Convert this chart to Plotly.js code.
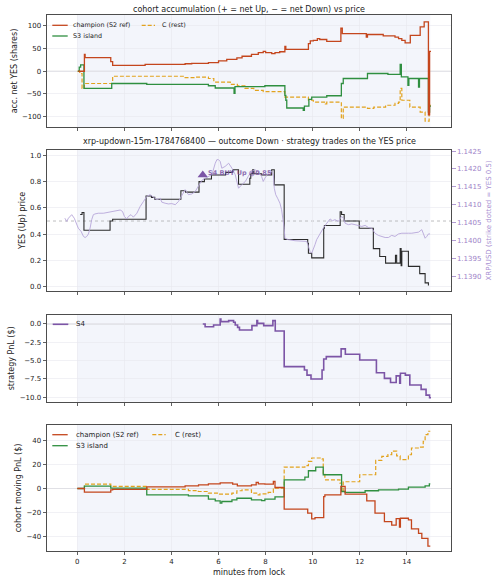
<!DOCTYPE html>
<html>
<head>
<meta charset="utf-8">
<script src="https://cdn.plot.ly/plotly-3.0.1.min.js"></script>
<style>
  html, body { margin: 0; padding: 0; background: #ffffff; }
  #chart { width: 500px; height: 582px; }
</style>
</head>
<body>
<div id="chart"></div>
<script>
// ---- minutes from lock / values ----
// Panel 1: accumulated net YES shares per cohort
const accChampT = [0.04,0.3,0.33,1.42,1.5,2.88,4.58,4.86,5.57,6.0,6.35,6.78,7.0,7.4,7.69,7.9,8.0,8.26,8.4,8.6,8.82,8.86,9.82,9.9,10.03,10.2,10.3,10.6,11.2,11.26,12.28,12.33,13.0,13.5,13.65,13.79,13.93,14.15,14.57,14.74,14.92,14.97,15.03];
const accChampV = [0,37,30,21,13,15,16.5,17.5,19,23,26,29.6,33,37,41,44,41,39,41,43,55,48,61,67,68,72,70,66,95,83,75,81,78,75,72,68,62.5,79,98,109,-96,44,44];

const accIslandT = [0.02,0.08,0.14,0.28,1.46,2.95,5.57,5.86,6.66,6.7,7.97,8.82,8.86,8.9,9.6,9.65,9.84,9.96,10.6,11.22,11.3,12.33,13.2,13.72,13.77,14.05,14.09,14.5,14.54,14.92,14.97,15.03];
const accIslandV = [0,9,14,-38,-27,-29,-32,-37,-49,-34,-32,-53,-64,-81,-86,-77,-62,-57,-54,-27,-16,-5,-7,15,-12.5,-31,-16,-35,-16,-90,-77,-77];

const accRestT = [0.0,0.1,0.2,0.3,1.5,4.58,5.0,5.57,5.8,6.5,6.8,7.12,7.5,7.9,8.82,9.82,10.03,10.54,10.6,11.22,11.3,12.33,12.6,13.1,13.5,13.65,13.72,13.79,14.13,14.57,14.78,14.95,15.03];
const accRestV = [0,-5,-38,-27,-11,-14,-13,-16,-24,-29,-32,-38,-42,-45,-57,-64,-68,-72,-68,-104,-79,-82,-79,-75,-71,-68,-38,-64,-79,-90,-110,-75,-75];

// Panel 2: YES (Up) price and XRP/USD
const yesT = [0.12,0.2,0.28,1.39,1.5,2.92,3.15,3.29,4.4,4.6,5.17,5.4,5.7,6.3,6.6,6.85,7.33,7.37,7.45,7.5,7.83,8.26,8.37,8.79,9.79,9.82,9.96,10.47,10.5,11.17,11.23,11.34,11.98,12.58,12.85,13.1,13.52,13.57,13.72,13.76,13.79,14.07,14.55,14.78,14.92];
const yesP = [0.55,0.565,0.43,0.5,0.514,0.69,0.68,0.666,0.73,0.72,0.80,0.82,0.85,0.87,0.89,0.78,0.825,0.86,0.89,0.86,0.85,0.89,0.775,0.36,0.33,0.255,0.22,0.445,0.466,0.57,0.55,0.5,0.445,0.29,0.23,0.18,0.24,0.18,0.29,0.16,0.27,0.155,0.10,0.03,0.01];

const xrpT = [-0.53,-0.45,-0.38,-0.31,-0.24,-0.13,-0.03,0.04,0.16,0.26,0.33,0.4,0.47,0.54,0.61,0.68,0.75,0.89,1.11,1.32,1.46,1.6,1.82,1.92,2.0,2.1,2.17,2.28,2.38,2.53,2.67,2.81,2.95,3.09,3.23,3.38,3.52,3.59,3.73,3.87,4.01,4.16,4.3,4.37,4.44,4.58,4.72,4.87,5.01,5.15,5.29,5.43,5.57,5.72,5.86,5.93,6.0,6.07,6.14,6.28,6.43,6.57,6.71,6.85,6.99,7.14,7.26,7.4,7.55,7.69,7.83,7.9,7.97,8.11,8.26,8.33,8.37,8.43,8.51,8.61,8.68,8.75,8.79,8.82,8.97,9.25,9.53,9.75,9.82,9.89,9.96,10.03,10.1,10.17,10.24,10.31,10.38,10.45,10.6,10.74,10.84,10.95,11.09,11.23,11.31,11.38,11.52,11.66,11.8,11.94,12.09,12.23,12.37,12.51,12.65,12.79,12.94,13.08,13.22,13.36,13.5,13.65,13.79,13.93,14.07,14.21,14.36,14.5,14.64,14.71,14.78,14.85,14.92,14.99];
const xrpUsd = [1.14062,1.14053,1.14062,1.14067,1.14072,1.14062,1.14048,1.14034,1.14025,1.14011,1.14008,1.14011,1.14018,1.14034,1.14058,1.14072,1.14074,1.14076,1.14076,1.14079,1.14081,1.14083,1.14085,1.14081,1.14067,1.14060,1.14067,1.14072,1.14065,1.14076,1.14095,1.14109,1.14123,1.14128,1.14120,1.14114,1.14118,1.14107,1.14104,1.14102,1.14103,1.14100,1.14109,1.14118,1.14128,1.14142,1.14128,1.14130,1.14137,1.14151,1.14168,1.14174,1.14179,1.14184,1.14216,1.14226,1.14226,1.14221,1.14202,1.14207,1.14216,1.14202,1.14184,1.14146,1.14156,1.14165,1.14179,1.14193,1.14198,1.14191,1.14179,1.14165,1.14174,1.14188,1.14193,1.14184,1.14146,1.14128,1.14118,1.14104,1.14086,1.14058,1.14034,1.14006,1.14002,1.13999,1.13999,1.13997,1.13983,1.13969,1.13964,1.13974,1.13988,1.14002,1.14011,1.14020,1.14025,1.14034,1.14048,1.14060,1.14055,1.14058,1.14053,1.14067,1.14062,1.14048,1.14044,1.14046,1.14044,1.14042,1.14039,1.14042,1.14036,1.14034,1.14020,1.14014,1.14011,1.14008,1.14008,1.14014,1.14011,1.14018,1.14020,1.14019,1.14020,1.14020,1.14022,1.14023,1.14030,1.14018,1.14006,1.14011,1.14018,1.14018];

const s4BuyT = [5.33];
const s4BuyP = [0.85];
const s4BuyLabel = ['S4 BUY Up @0.85'];

// Panel 3: S4 strategy PnL
const s4T = [5.33,5.43,5.79,6.07,6.1,6.43,6.64,6.71,6.81,6.89,7.42,7.63,7.66,7.92,8.31,8.41,8.79,9.65,9.76,9.93,10.4,10.47,10.58,11.21,11.39,12.0,12.71,13.05,13.31,13.55,13.7,13.73,13.94,14.13,14.61,14.82,14.97,15.03];
const s4Pnl = [0,-0.37,-0.14,0.68,0.32,0.46,0.23,-0.14,-0.46,-0.82,-0.23,0.46,0.09,-0.23,0.46,-0.96,-5.84,-6.3,-7.0,-7.53,-6.3,-4.8,-4.47,-3.4,-4.15,-4.93,-6.67,-7.44,-8.0,-7.1,-8.1,-6.74,-7.0,-8.36,-8.95,-9.73,-10.1,-10.1];

// Panel 4: cohort moving PnL
const pnlChampT = [0.0,0.3,1.42,1.5,2.95,4.58,5.15,5.57,6.07,6.6,6.8,7.4,7.6,7.69,7.97,8.33,8.4,8.79,9.79,9.96,10.1,10.47,10.52,11.2,11.38,12.3,12.65,13.05,13.36,13.55,13.69,13.73,14.07,14.2,14.5,14.64,14.9,15.0];
const pnlChampV = [0,-3.05,-1.1,-0.8,1.4,2.2,3.0,3.9,4.7,3.6,2.2,3.0,5.0,3.9,3.6,5.8,0.8,-17.2,-20.5,-25.3,-24.2,-6.7,-5.3,1.7,-4.7,-10.3,-20.5,-27.5,-30.5,-25,-32,-24.7,-26,-33.6,-37.2,-41.4,-47.8,-47.8];

const pnlIslandT = [0.0,0.3,1.42,2.95,4.72,5.57,5.86,6.07,6.14,6.57,6.78,7.4,7.83,7.97,8.4,8.79,9.67,9.82,10.13,10.45,11.23,11.38,12.23,12.8,13.65,14.07,14.78,14.96,15.0];
const pnlIslandV = [0,1.9,0.3,-5.3,-6.1,-8.9,-10.3,-12.2,-10.8,-9.4,-8.1,-9.4,-10,-8.9,-6.9,7.2,9.4,14.7,17.8,11.4,-2.5,-3.3,-1.9,-1.1,-0.6,1.1,2.2,3.9,3.9];

const pnlRestT = [0.0,0.3,1.42,2.95,4.72,5.14,5.57,6.0,6.57,6.78,7.0,7.4,7.62,7.76,8.11,8.33,8.79,9.67,9.82,9.96,10.4,10.45,10.52,11.16,11.23,11.3,12.0,12.68,12.94,13.2,13.36,13.57,13.72,14.07,14.2,14.55,14.7,14.78,14.9,15.0];
const pnlRestV = [0,3.6,1.7,-0.8,-1.7,-2.5,-3.9,-4.7,-3.9,-1.9,-1.1,-3.9,-5.3,-4.4,-3.3,0.3,17.8,18.9,22.5,25.3,24.5,12.8,7.2,4.4,-2.5,5.6,11.4,23.3,26.7,28.1,31,27,24,28,33.6,34.4,39.2,44.7,47.5,47.5];

const minuteTicks = [0, 2, 4, 6, 8, 10, 12, 14];
const xrpTicks = [1.1390, 1.1395, 1.1400, 1.1405, 1.1410, 1.1415, 1.1420, 1.1425];

// ---- styling ----
const C_CHAMP = '#c4461d';
const C_ISLAND = '#2f8f40';
const C_REST = '#e2a21d';
const C_S4 = '#7c55a6';
const C_XRP = '#b7a6d9';
const C_XRPTXT = '#9d82c8';
const FONT = 'DejaVu Sans, sans-serif';

const step = (x, y, color, xa, ya, extra) => Object.assign({
  type: 'scatter', mode: 'lines', x, y, xaxis: xa, yaxis: ya,
  line: { color, width: 1.3, shape: 'hv' }, showlegend: false, hoverinfo: 'skip'
}, extra || {});

const traces = [
  step(accRestT, accRestV, C_REST, 'x', 'y', { line: { color: C_REST, width: 1.2, shape: 'hv', dash: '4px,2px' } }),
  step(accIslandT, accIslandV, C_ISLAND, 'x', 'y'),
  step(accChampT, accChampV, C_CHAMP, 'x', 'y'),

  step(yesT, yesP, '#2b2b2b', 'x2', 'y2', { line: { color: '#2b2b2b', width: 1.1, shape: 'hv' } }),
  { type: 'scatter', mode: 'markers', x: s4BuyT, y: s4BuyP, xaxis: 'x2', yaxis: 'y2',
    marker: { symbol: 'triangle-up', size: 9, color: C_S4 }, showlegend: false, hoverinfo: 'skip' },
  { type: 'scatter', mode: 'lines', x: xrpT, y: xrpUsd, xaxis: 'x2', yaxis: 'y5',
    line: { color: C_XRP, width: 1 }, opacity: 0.9, showlegend: false, hoverinfo: 'skip' },

  step(s4T, s4Pnl, C_S4, 'x3', 'y3', { line: { color: C_S4, width: 1.6, shape: 'hv' } }),

  step(pnlRestT, pnlRestV, C_REST, 'x4', 'y4', { line: { color: C_REST, width: 1.2, shape: 'hv', dash: '4px,2px' } }),
  step(pnlIslandT, pnlIslandV, C_ISLAND, 'x4', 'y4'),
  step(pnlChampT, pnlChampV, C_CHAMP, 'x4', 'y4')
];

const axisBase = {
  showline: true, mirror: true, linecolor: '#3a3a3a', linewidth: 0.9,
  ticks: 'outside', ticklen: 3.5, tickwidth: 0.8, tickcolor: '#3a3a3a',
  showgrid: true, gridcolor: '#e7e8ee', gridwidth: 0.6, zeroline: false,
  tickfont: { size: 7, color: '#222', family: FONT }
};
const xBase = Object.assign({}, axisBase, { range: [-1.29, 15.88], tickvals: minuteTicks, showticklabels: false });
const yTitle = (text) => ({ text, font: { size: 8, color: '#222', family: FONT }, standoff: 3 });

// shaded window from lock to close, plus reference lines
const shapes = [];
[['x', 'y'], ['x2', 'y2'], ['x3', 'y3'], ['x4', 'y4']].forEach(([xa, ya]) => {
  shapes.push({ type: 'rect', xref: xa, yref: ya + ' domain', x0: 0, x1: 15, y0: 0, y1: 1,
    fillcolor: '#f3f5fb', line: { width: 0 }, layer: 'below' });
});
[['y', 0], ['y3', 0], ['y4', 0]].forEach(([ya, v]) => {
  shapes.push({ type: 'line', xref: 'x domain', yref: ya, x0: 0, x1: 1, y0: v, y1: v,
    line: { color: '#d4d4d8', width: 1.2 }, layer: 'below' });
});
shapes.push({ type: 'line', xref: 'x2 domain', yref: 'y2', x0: 0, x1: 1, y0: 0.5, y1: 0.5,
  line: { color: '#b4b4b8', width: 0.9, dash: 'dot' }, layer: 'below' });

// legend keys (paper coordinates)
const px = (v) => (v - 47) / 404;
const py = (v) => (551 - v) / 536;
const annotations = [];
function legendKey(x0, x1, yPix, color, dash, width, label, textX, size) {
  shapes.push({ type: 'line', xref: 'paper', yref: 'paper', x0: px(x0), x1: px(x1), y0: py(yPix), y1: py(yPix),
    line: { color, width, dash: dash || 'solid' } });
  annotations.push({ xref: 'paper', yref: 'paper', x: px(textX), y: py(yPix), xanchor: 'left', yanchor: 'middle',
    text: label, showarrow: false, font: { size, color: '#222', family: FONT } });
}
legendKey(52.3, 67.7, 25.3, C_CHAMP, null, 1.3, 'champion (S2 ref)', 71, 6.4);
legendKey(52.3, 67.7, 36, C_ISLAND, null, 1.3, 'S3 island', 71, 6.4);
legendKey(141.7, 155, 25.3, C_REST, '4px,2px', 1.2, 'C (rest)', 160, 6.4);
legendKey(52.7, 68.3, 324.3, C_S4, null, 1.6, 'S4', 74, 7);
legendKey(52.3, 67.7, 434.7, C_CHAMP, null, 1.3, 'champion (S2 ref)', 74, 7);
legendKey(52.3, 67.7, 445.7, C_ISLAND, null, 1.3, 'S3 island', 74, 7);
legendKey(152.3, 165.7, 434.7, C_REST, '4px,2px', 1.2, 'C (rest)', 172.7, 7);

// panel titles
annotations.push({ xref: 'paper', yref: 'paper', x: 0.5, y: py(9), xanchor: 'center', yanchor: 'middle',
  text: 'cohort accumulation (+ = net Up, \u2212 = net Down) vs price', showarrow: false,
  font: { size: 8, color: '#222', family: FONT } });
annotations.push({ xref: 'paper', yref: 'paper', x: 0.5, y: py(141.7), xanchor: 'center', yanchor: 'middle',
  text: 'xrp-updown-15m-1784768400 \u2014 outcome Down \u00b7 strategy trades on the YES price', showarrow: false,
  font: { size: 8, color: '#222', family: FONT } });
// trade label next to the buy marker
annotations.push({ xref: 'x2', yref: 'y2', x: s4BuyT[0] + 0.15, y: s4BuyP[0] + 0.015, xanchor: 'left', yanchor: 'middle',
  text: '<b>' + s4BuyLabel[0] + '</b>', showarrow: false, opacity: 0.85,
  font: { size: 6.5, color: C_S4, family: FONT } });

const layout = {
  width: 500, height: 582,
  margin: { l: 47, r: 49, t: 15, b: 31 },
  paper_bgcolor: '#ffffff', plot_bgcolor: '#ffffff',
  font: { family: FONT, size: 7, color: '#222' },
  showlegend: false,
  xaxis: Object.assign({}, xBase, { anchor: 'y' }),
  xaxis2: Object.assign({}, xBase, { anchor: 'y2', matches: 'x' }),
  xaxis3: Object.assign({}, xBase, { anchor: 'y3', matches: 'x' }),
  xaxis4: Object.assign({}, xBase, { anchor: 'y4', matches: 'x', showticklabels: true,
    title: { text: 'minutes from lock', font: { size: 8, color: '#222', family: FONT }, standoff: 4 } }),
  yaxis: Object.assign({}, axisBase, { anchor: 'x', domain: [0.791, 1], range: [-123, 124],
    tickvals: [-100, -50, 0, 50, 100], title: yTitle('acc. net YES (shares)') }),
  yaxis2: Object.assign({}, axisBase, { anchor: 'x2', domain: [0.4856, 0.7481], range: [-0.03, 1.04],
    tickvals: [0, 0.2, 0.4, 0.6, 0.8, 1.0], tickformat: '.1f', title: yTitle('YES (Up) price') }),
  yaxis3: Object.assign({}, axisBase, { anchor: 'x3', domain: [0.2785, 0.4403], range: [-10.64, 1.23],
    tickvals: [0, -2.5, -5, -7.5, -10], tickformat: '.1f', title: yTitle('strategy PnL ($)') }),
  yaxis4: Object.assign({}, axisBase, { anchor: 'x4', domain: [0, 0.2351], range: [-51.9, 52.7],
    tickvals: [-40, -20, 0, 20, 40], title: yTitle('cohort moving PnL ($)') }),
  yaxis5: { overlaying: 'y2', anchor: 'x2', side: 'right', range: [1.13859, 1.14253],
    tickvals: xrpTicks, tickformat: '.4f', showgrid: false, zeroline: false, showline: false,
    ticks: 'outside', ticklen: 3.5, tickwidth: 0.8, tickcolor: C_XRPTXT,
    tickfont: { size: 7, color: C_XRPTXT, family: FONT },
    title: { text: 'XRP/USD (strike dotted = YES 0.5)', font: { size: 7, color: '#a88fd2', family: FONT }, standoff: 5 } },
  shapes, annotations
};

Plotly.newPlot('chart', traces, layout, { displayModeBar: false, staticPlot: true });
</script>
</body>
</html>
